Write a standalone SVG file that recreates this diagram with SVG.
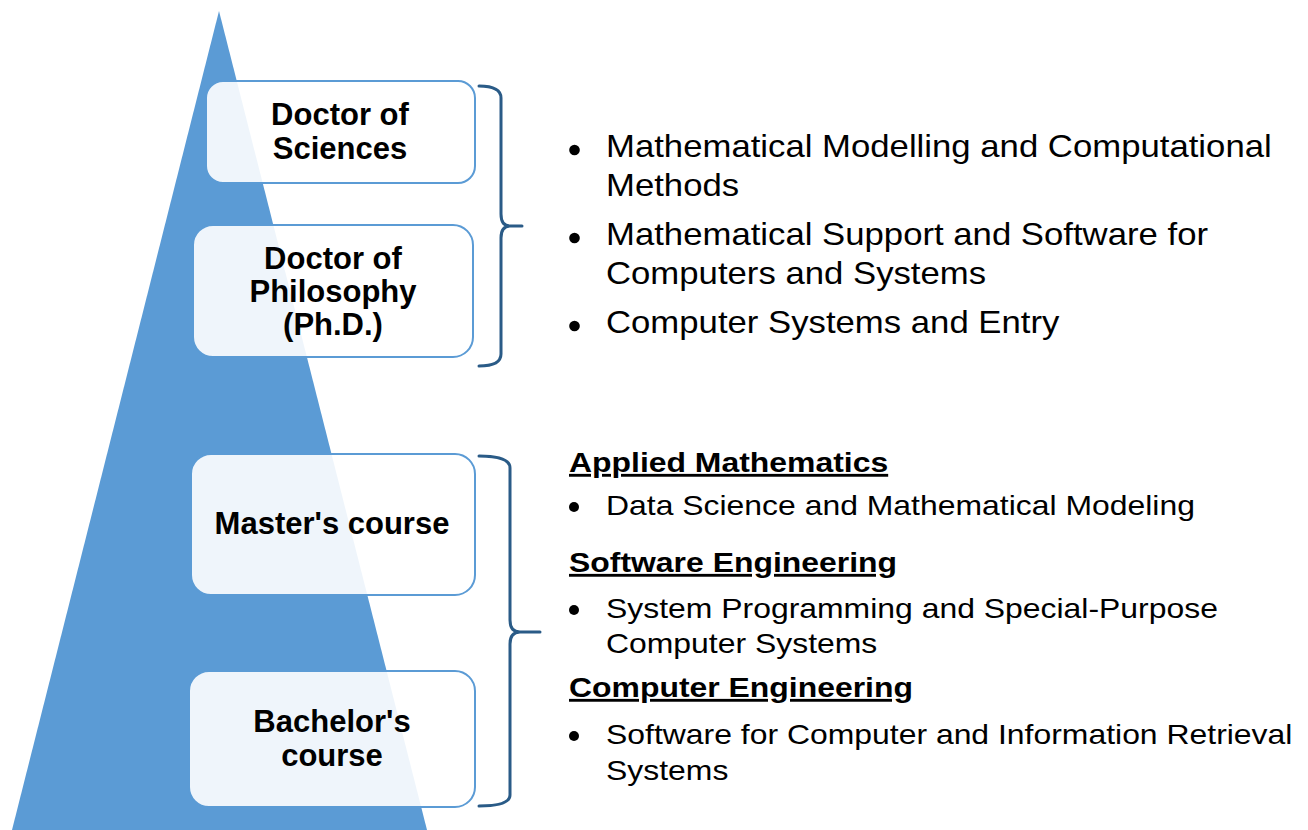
<svg xmlns="http://www.w3.org/2000/svg" width="1308" height="830" viewBox="0 0 1308 830">
<style>
.box{fill:#ffffff;fill-opacity:0.9;stroke:#5b9bd5;stroke-width:2}
.lbl{font-family:"Liberation Sans",Arial,sans-serif;font-weight:bold;font-size:31px;fill:#000;text-anchor:middle}
.t1{font-family:"Liberation Sans",Arial,sans-serif;font-size:31px;fill:#000}
.t2{font-family:"Liberation Sans",Arial,sans-serif;font-size:28.5px;fill:#000}
.hd{font-family:"Liberation Sans",Arial,sans-serif;font-size:28.5px;font-weight:bold;fill:#000;text-decoration:underline}
.brace{fill:none;stroke:#2a5b87;stroke-width:3;stroke-linejoin:round;stroke-linecap:round}
.dot{fill:#000}
</style>
<rect x="0" y="0" width="1308" height="830" fill="#ffffff"/>
<polygon id="pyramid" points="219,11 427,830 12,830" fill="#5b9bd5"/>
<g id="node-doctor-sciences">
<rect class="box" x="206" y="81" width="269" height="102" rx="17"/>
<text class="lbl" x="340" y="125">Doctor of</text>
<text class="lbl" x="340" y="159">Sciences</text>
</g>
<g id="node-phd">
<rect class="box" x="193" y="225" width="280" height="132" rx="20"/>
<text class="lbl" x="333" y="269">Doctor of</text>
<text class="lbl" x="333" y="302">Philosophy</text>
<text class="lbl" x="333" y="335">(Ph.D.)</text>
</g>
<g id="node-master">
<rect class="box" x="191" y="454" width="284" height="141" rx="20"/>
<text class="lbl" x="332" y="534">Master's course</text>
</g>
<g id="node-bachelor">
<rect class="box" x="189" y="671" width="286" height="136" rx="20"/>
<text class="lbl" x="332" y="732">Bachelor's</text>
<text class="lbl" x="332" y="766">course</text>
</g>
<g id="connectors">
<path class="brace" d="M479,86 Q501,86 501,98 L501,214 Q501,226 510,226 L522,226 M510,226 Q501,226 501,238 L501,354 Q501,366 479,366"/>
<path class="brace" d="M479,456 Q510,456 510,468 L510,620 Q510,632 520,632 L540,632 M520,632 Q510,632 510,644 L510,795 Q510,806 479,806"/>
</g>
<g id="node-doctoral-specialties">
<circle class="dot" cx="574.5" cy="150" r="5.3"/>
<circle class="dot" cx="574.5" cy="238" r="5.3"/>
<circle class="dot" cx="574.5" cy="326" r="5.3"/>
<text class="t1" transform="translate(606,157) scale(1.12,1)">Mathematical Modelling and Computational</text>
<text class="t1" transform="translate(606,196) scale(1.12,1)">Methods</text>
<text class="t1" transform="translate(606,245) scale(1.12,1)">Mathematical Support and Software for</text>
<text class="t1" transform="translate(606,284) scale(1.12,1)">Computers and Systems</text>
<text class="t1" transform="translate(606,333) scale(1.12,1)">Computer Systems and Entry</text>
</g>
<g id="node-degree-programs">
<text class="hd" transform="translate(569,472) scale(1.12,1)">Applied Mathematics</text>
<circle class="dot" cx="574" cy="507" r="5"/>
<text class="t2" transform="translate(606,515) scale(1.12,1)">Data Science and Mathematical Modeling</text>
<text class="hd" transform="translate(569,572) scale(1.12,1)">Software Engineering</text>
<circle class="dot" cx="574" cy="610" r="5"/>
<text class="t2" transform="translate(606,618) scale(1.12,1)">System Programming and Special-Purpose</text>
<text class="t2" transform="translate(606,653) scale(1.12,1)">Computer Systems</text>
<text class="hd" transform="translate(569,697) scale(1.12,1)">Computer Engineering</text>
<circle class="dot" cx="574" cy="736" r="5"/>
<text class="t2" transform="translate(606,744) scale(1.12,1)">Software for Computer and Information Retrieval</text>
<text class="t2" transform="translate(606,780) scale(1.12,1)">Systems</text>
</g>
</svg>
